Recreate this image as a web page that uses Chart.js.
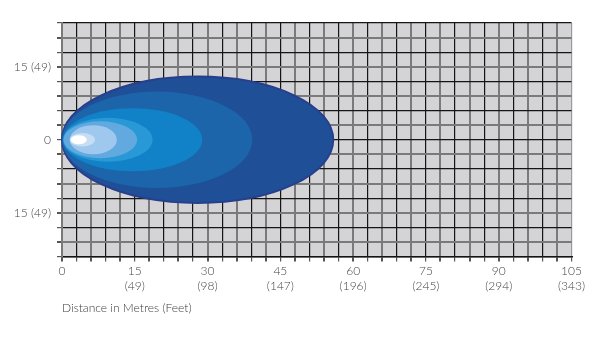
<!DOCTYPE html>
<html><head><meta charset="utf-8">
<script src="https://cdn.jsdelivr.net/npm/chart.js@4/dist/chart.umd.min.js"></script>
<style>html,body{margin:0;padding:0;background:#fff}#wrap{width:600px;height:339px;position:relative}</style>
</head><body><div id="wrap"><canvas id="c" width="600" height="339"></canvas></div>
<script>
// Axis tick labels
const xTickMetres = [0, 15, 30, 45, 60, 75, 90, 105];
const xTickFeet = [null, 49, 98, 147, 196, 245, 294, 343];
const yTickMetres = [15, 0, -15];
const yTickLabels = ['15 (49)', '0', '15 (49)'];
const xTitle = 'Distance in Metres (Feet)';

// Beam pattern zones (metres): near end, far end, half width
const zoneNear = [0, 0, 0.2, 0.2, 0.3, 1.6, 1.6, 1.8];
const zoneFar = [55.9, 39.2, 28.9, 18.7, 15.5, 11.3, 6.8, 5.1];
const zoneHalfWidth = [13.0, 9.9, 6.5, 4.5, 3.8, 3.0, 1.4, 0.95];
const zoneColors = ['#1f4f97', '#1d65aa', '#1181c8', '#2898d6', '#62a9df', '#9fc8ee', '#c6ddf4', '#ffffff'];

const datasets = zoneNear.map((n, i) => ({
  type: 'scatter',
  data: [{x: n, y: -zoneHalfWidth[i]}, {x: zoneFar[i], y: zoneHalfWidth[i]}],
  pointRadius: 0,
  showLine: false,
  backgroundColor: zoneColors[i]
}));

const bgPlugin = {
  id: 'plotBg',
  beforeDraw(chart) {
    const {ctx, chartArea: a} = chart;
    ctx.save();
    ctx.fillStyle = '#d4d4d6';
    ctx.fillRect(a.left, a.top, a.right - a.left, a.bottom - a.top);
    ctx.restore();
  }
};

const ellipsePlugin = {
  id: 'ellipses',
  beforeDatasetsDraw(chart) {
    const {ctx, scales: {x, y}} = chart;
    ctx.save();
    chart.data.datasets.forEach((ds, i) => {
      const p0 = ds.data[0], p1 = ds.data[1];
      const x0 = x.getPixelForValue(p0.x), x1 = x.getPixelForValue(p1.x);
      const yTop = y.getPixelForValue(p1.y), yBot = y.getPixelForValue(p0.y);
      const cx = (x0 + x1) / 2, cy = (yTop + yBot) / 2;
      ctx.beginPath();
      ctx.ellipse(cx, cy, (x1 - x0) / 2, (yBot - yTop) / 2, 0, 0, Math.PI * 2);
      ctx.fillStyle = ds.backgroundColor;
      ctx.fill();
      if (i === 0) {
        ctx.lineWidth = 2;
        ctx.strokeStyle = '#283f8c';
        ctx.stroke();
      }
    });
    ctx.restore();
  }
};

const isOdd = v => Math.abs(Math.round(v / 3)) % 2 === 1;
const labelFont = {family: 'Lato', size: 12, weight: 300};

new Chart(document.getElementById('c'), {
  type: 'scatter',
  data: {datasets},
  plugins: [bgPlugin, ellipsePlugin],
  options: {
    responsive: false,
    animation: false,
    devicePixelRatio: 1,
    layout: {padding: {top: 23, right: 28.5, left: 0, bottom: 0}},
    plugins: {legend: {display: false}, tooltip: {enabled: false}},
    scales: {
      x: {
        type: 'linear', min: 0, max: 105,
        afterFit(s) { s.height = 82.5; },
        grid: {
          color: c => (c.tick && c.tick.value === 105) ? '#9a9a9a' : (isOdd(c.tick ? c.tick.value : 0) ? '#151515' : '#7a7a7a'),
          lineWidth: c => isOdd(c.tick ? c.tick.value : 0) ? 1.2 : 2,
          tickLength: 5,
          tickColor: '#555'
        },
        border: {display: true, color: '#151515', width: 1.5},
        ticks: {
          stepSize: 3, autoSkip: false, maxRotation: 0, padding: 2,
          color: '#444',
          font: {...labelFont, lineHeight: 1.25},
          callback: v => {
            const i = xTickMetres.indexOf(v);
            if (i < 0) return '';
            return xTickFeet[i] == null ? String(v) : [String(v), '(' + xTickFeet[i] + ')'];
          }
        },
        title: {
          display: true, text: xTitle, align: 'start', color: '#3a3a3a',
          font: labelFont,
          padding: {top: 0, bottom: 24}
        }
      },
      y: {
        type: 'linear', min: -24, max: 24,
        afterFit(s) { s.width = 62; },
        grid: {
          color: c => isOdd(c.tick ? c.tick.value : 0) ? '#7a7a7a' : '#151515',
          lineWidth: c => isOdd(c.tick ? c.tick.value : 0) ? 2 : 1.2,
          tickLength: 5,
          tickColor: '#555'
        },
        border: {display: true, color: '#7a7a7a', width: 2},
        ticks: {
          stepSize: 3, autoSkip: false, padding: 6,
          color: '#444',
          font: labelFont,
          callback: v => {
            const i = yTickMetres.indexOf(v);
            return i < 0 ? '' : yTickLabels[i];
          }
        }
      }
    }
  }
});
</script>
</body></html>
